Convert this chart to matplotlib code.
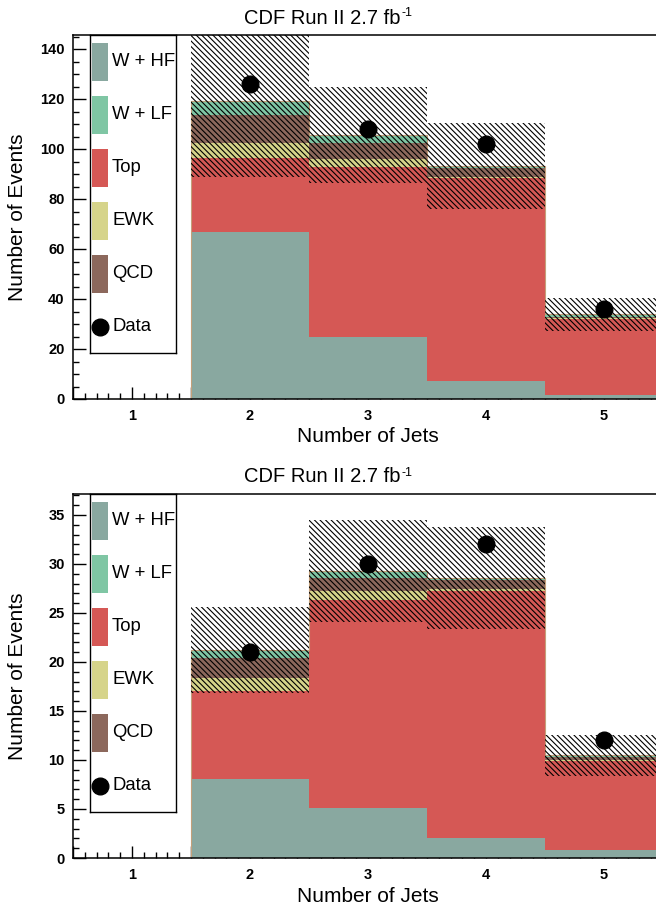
import numpy as np
import matplotlib
matplotlib.use('Agg')
import matplotlib.pyplot as plt
from matplotlib.patches import Rectangle
from matplotlib.ticker import MultipleLocator, FuncFormatter

plt.rcParams['font.family'] = ['Liberation Sans', 'DejaVu Sans']
plt.rcParams['hatch.linewidth'] = 0.8

jets = [1, 2, 3, 4, 5]
labels = ['W + HF', 'W + LF', 'Top', 'EWK', 'QCD', 'Data']
colors = {'W + HF': '#89a8a0', 'W + LF': '#7fc6a4', 'Top': '#d55855',
          'EWK': '#d6d48a', 'QCD': '#8c685c'}
stack_order = ['W + HF', 'Top', 'EWK', 'QCD', 'W + LF']

# upper panel
top_whf = [0, 67.0, 25.0, 7.2, 1.6]
top_top = [0, 29.5, 67.9, 81.1, 30.3]
top_ewk = [0, 5.8, 3.0, 0.6, 0.4]
top_qcd = [0, 11.2, 6.6, 3.4, 0.6]
top_wlf = [0, 5.7, 3.0, 0.9, 1.0]
top_unc = [0, 30.3, 19.2, 17.3, 6.7]
top_data = [np.nan, 126, 108, 102, 36]

# lower panel
bot_whf = [0, 8.06, 5.1, 2.0, 0.8]
bot_top = [0, 9.0, 21.2, 25.2, 9.1]
bot_ewk = [0, 1.35, 0.9, 0.2, 0.1]
bot_qcd = [0, 2.0, 1.4, 1.0, 0.3]
bot_wlf = [0, 0.8, 0.7, 0.2, 0.2]
bot_unc = [0, 4.4, 5.2, 5.2, 2.1]
bot_data = [np.nan, 21, 30, 32, 12]

W, H = 656, 909
fig = plt.figure(figsize=(W / 100, H / 100), dpi=100)


def px_axes(x0, y0, x1, y1):
    return fig.add_axes([x0 / W, 1 - y1 / H, (x1 - x0) / W, (y1 - y0) / H])


def panel(ax, comps, unc, data, ymax, ymaj, ymin):
    x = np.array(jets)
    bottom = np.zeros(len(jets))
    for name in stack_order:
        v = np.array(comps[name])
        ax.bar(x, v, width=1.0, bottom=bottom, color=colors[name], linewidth=0, zorder=2)
        bottom = bottom + v
    unc = np.array(unc)
    ax.stairs(bottom, np.arange(0.5, 6.0, 1.0), color='#c4a07a', lw=0.8, zorder=2.5)
    ax.bar(x, 2 * unc, width=1.0, bottom=bottom - unc, fill=False, hatch='\\' * 6,
           edgecolor='black', linewidth=0, zorder=3)
    ax.plot(x, data, 'o', color='black', markersize=12, zorder=4)

    ax.set_xlim(0.5, 5.5)
    ax.set_ylim(0, ymax)
    ax.xaxis.set_major_locator(MultipleLocator(0.5))
    ax.xaxis.set_minor_locator(MultipleLocator(0.1))
    ax.xaxis.set_major_formatter(FuncFormatter(lambda v, p: '%d' % v if abs(v - round(v)) < 1e-6 else ''))
    ax.yaxis.set_major_locator(MultipleLocator(ymaj))
    ax.yaxis.set_minor_locator(MultipleLocator(ymin))
    ax.tick_params(which='both', direction='in', labelsize=10.5, width=1)
    ax.tick_params(which='major', length=9)
    ax.tick_params(which='minor', length=4.5)
    ax.tick_params(axis='x', pad=7)
    ax.tick_params(axis='y', pad=6)
    for t in ax.get_xticklabels() + ax.get_yticklabels():
        t.set_fontweight('bold')
    ax.spines['right'].set_visible(False)
    for s in ['left', 'bottom', 'top']:
        ax.spines[s].set_linewidth(1.1)
    ax.set_xlabel('Number of Jets', fontsize=15, va='center')
    ax.set_ylabel('Number of Events', fontsize=15, va='center')
    ax.xaxis.set_label_coords((368 - 73) / 590, -38 / 364)
    ax.yaxis.set_label_coords(-55 / 590, 0.5)


def legend_box(y0):
    lg = px_axes(89.5, y0, 176, y0 + 318)
    lg.set_xlim(0, 86.5)
    lg.set_ylim(318, 0)
    lg.set_xticks([])
    lg.set_yticks([])
    for s in lg.spines.values():
        s.set_linewidth(1)
    for i, name in enumerate(labels):
        yc = 26.7 + i * 53
        if name == 'Data':
            lg.plot([10.5], [yc], 'o', color='black', markersize=12)
        else:
            lg.add_patch(Rectangle((2.5, yc - 19), 16, 38, color=colors[name], lw=0))
        lg.text(22.5, yc, name, fontsize=13.3, va='center', ha='left')


def title(yc):
    t = fig.text(322 / W, 1 - yc / H, 'CDF Run II 2.7 fb', ha='center', va='center', fontsize=14.5)
    r = fig.canvas.get_renderer()
    bb = t.get_window_extent(r)
    fig.text((bb.x1 + 1) / W, (bb.y1 + 1) / H, '-1', ha='left', va='top', fontsize=9)


ax1 = px_axes(73, 35, 663, 399)
panel(ax1, {'W + HF': top_whf, 'Top': top_top, 'EWK': top_ewk, 'QCD': top_qcd, 'W + LF': top_wlf},
      top_unc, top_data, 145.6, 20, 5)
legend_box(35)
title(18)

ax2 = px_axes(73, 494, 663, 858)
panel(ax2, {'W + HF': bot_whf, 'Top': bot_top, 'EWK': bot_ewk, 'QCD': bot_qcd, 'W + LF': bot_wlf},
      bot_unc, bot_data, 37.14, 5, 1)
legend_box(494)
title(477)

fig.savefig('out.png', dpi=100)
